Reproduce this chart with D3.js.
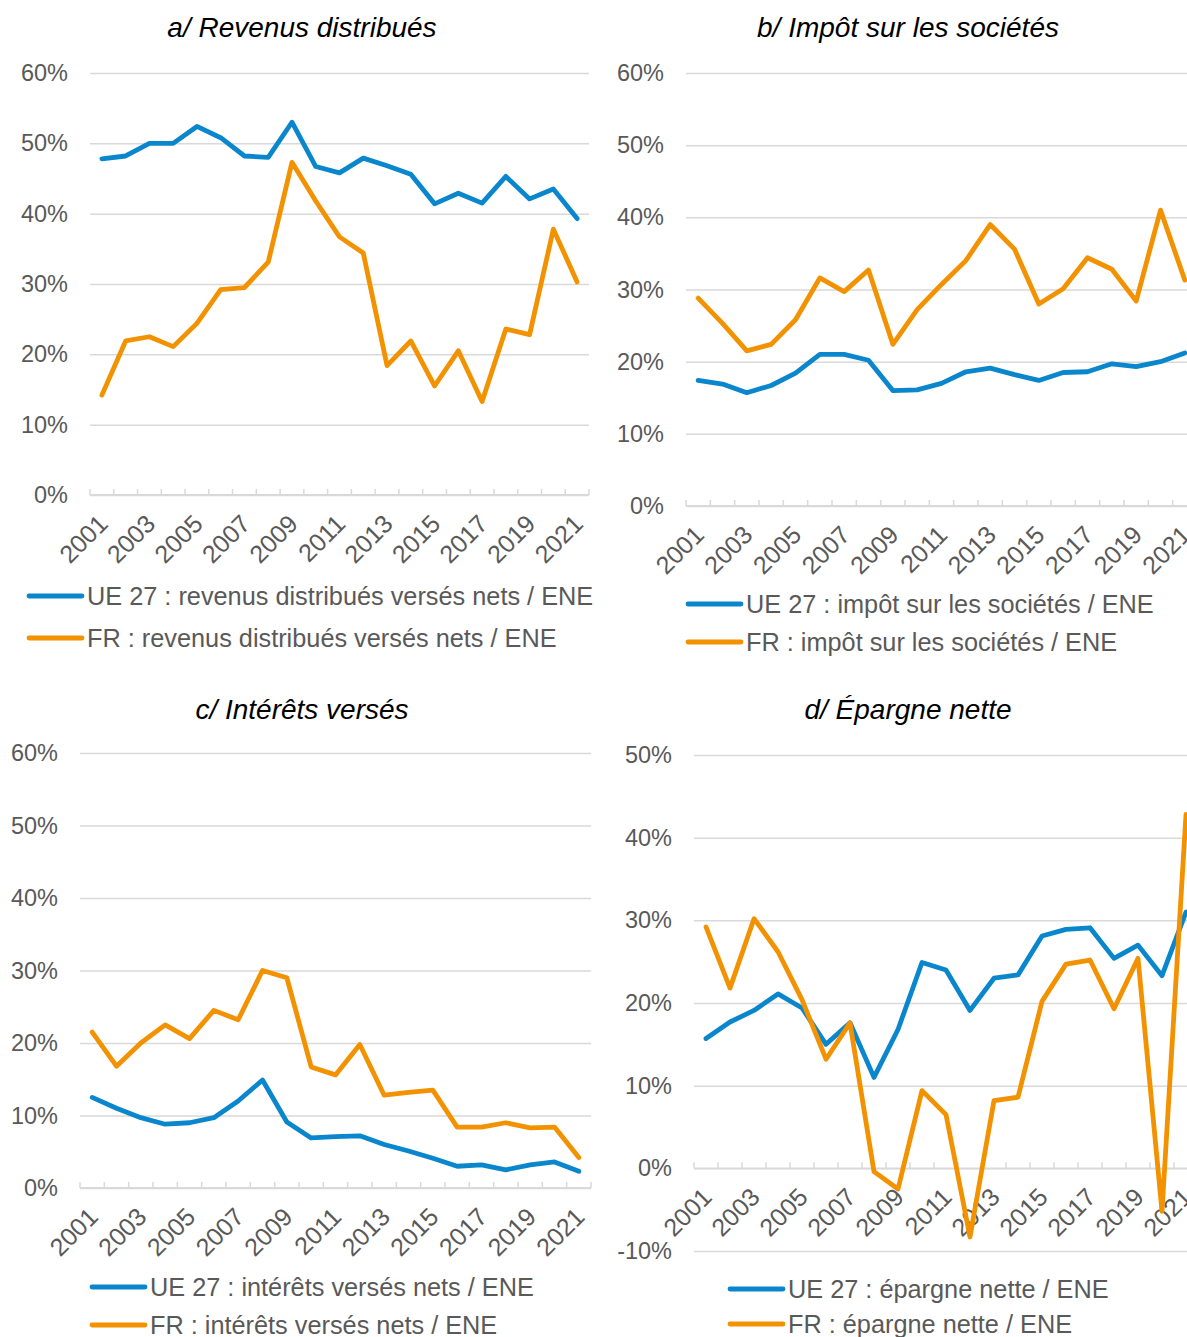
<!DOCTYPE html>
<html>
<head>
<meta charset="utf-8">
<script src="https://cdn.jsdelivr.net/npm/d3@7"></script>
<style>
html,body{margin:0;padding:0;background:#fff;}
svg{display:block;font-family:"Liberation Sans",Arial,sans-serif;}
</style>
</head>
<body>
<svg id="chart" width="1187" height="1337"></svg>
<script>
const years = [2001,2002,2003,2004,2005,2006,2007,2008,2009,2010,2011,2012,2013,2014,2015,2016,2017,2018,2019,2020,2021];
const yearLabels = [2001,2003,2005,2007,2009,2011,2013,2015,2017,2019,2021];

const titles = ["a/ Revenus distribués","b/ Impôt sur les sociétés","c/ Intérêts versés","d/ Épargne nette"];

const legendEU = ["UE 27 : revenus distribués versés nets / ENE","UE 27 : impôt sur les sociétés / ENE","UE 27 : intérêts versés nets / ENE","UE 27 : épargne nette / ENE"];
const legendFR = ["FR : revenus distribués versés nets / ENE","FR : impôt sur les sociétés / ENE","FR : intérêts versés nets / ENE","FR : épargne nette / ENE"];

const ticksABC = [0,10,20,30,40,50,60];
const ticksD = [-10,0,10,20,30,40,50];

// a/ Revenus distribués
const euA = [47.8,48.2,50.0,50.0,52.4,50.8,48.2,48.0,53.0,46.7,45.8,47.9,46.8,45.6,41.4,42.9,41.5,45.3,42.1,43.5,39.3];
const frA = [14.2,21.9,22.5,21.1,24.4,29.2,29.5,33.1,47.3,41.8,36.7,34.4,18.4,21.9,15.5,20.5,13.3,23.6,22.8,37.8,30.3];
// b/ Impôt sur les sociétés
const euB = [17.4,16.9,15.7,16.7,18.4,21.0,21.0,20.2,16.0,16.1,17.0,18.6,19.1,18.2,17.4,18.5,18.6,19.7,19.3,20.0,21.2];
const frB = [28.8,25.3,21.5,22.4,25.8,31.6,29.7,32.7,22.4,27.2,30.7,34.0,39.0,35.6,28.0,30.1,34.4,32.8,28.4,41.0,31.3];
// c/ Intérêts versés
const euC = [12.5,11.0,9.7,8.8,9.0,9.7,12.0,14.9,9.1,6.9,7.1,7.2,6.0,5.1,4.1,3.0,3.2,2.5,3.2,3.6,2.3];
const frC = [21.5,16.8,20.0,22.5,20.6,24.5,23.2,30.0,29.0,16.7,15.6,19.8,12.8,13.2,13.5,8.4,8.4,9.0,8.3,8.4,4.2];
// d/ Épargne nette
const euD = [15.7,17.7,19.1,21.1,19.4,15.0,17.6,11.0,16.8,24.9,24.0,19.1,23.0,23.4,28.1,28.9,29.1,25.4,27.0,23.3,31.0];
const frD = [29.2,21.8,30.2,26.2,20.4,13.2,17.6,-0.4,-2.5,9.4,6.5,-8.3,8.2,8.6,20.2,24.7,25.2,19.3,25.4,-5.2,42.8];

const BLUE = "#0A86CD";
const ORANGE = "#F39200";
const TEXT = "#595959";
const GRID = "#d9d9d9";

const svg = d3.select("#chart");

const panels = [
  {title:titles[0], eu:euA, fr:frA, ticks:ticksABC, dom:[0,60], x0:90, x1:589, yTop:73, yBot:495, titleX:302, titleY:37,
   legX:27, legY1:596, legY2:638},
  {title:titles[1], eu:euB, fr:frB, ticks:ticksABC, dom:[0,60], x0:686, x1:1197, yTop:73, yBot:506, titleX:908, titleY:37,
   legX:686, legY1:604, legY2:642},
  {title:titles[2], eu:euC, fr:frC, ticks:ticksABC, dom:[0,60], x0:80, x1:591, yTop:753, yBot:1188, titleX:302, titleY:719,
   legX:90, legY1:1287, legY2:1325},
  {title:titles[3], eu:euD, fr:frD, ticks:ticksD, dom:[-10,50], x0:694, x1:1198, yTop:755, yBot:1251, titleX:908, titleY:719,
   legX:728, legY1:1289, legY2:1324}
];

panels.forEach((p, i) => {
  const g = svg.append("g");
  const x = d3.scaleBand().domain(years).range([p.x0, p.x1]);
  const y = d3.scaleLinear().domain(p.dom).range([p.yBot, p.yTop]);
  const cx = d => x(d) + x.bandwidth() / 2;

  // title
  g.append("text").attr("x", p.titleX).attr("y", p.titleY)
    .attr("text-anchor", "middle").attr("font-size", 28).attr("font-style", "italic")
    .attr("fill", "#000").text(p.title);

  // gridlines + y labels via axis
  const yAxis = d3.axisLeft(y).tickValues(p.ticks).tickSize(-(p.x1 - p.x0)).tickPadding(22)
    .tickFormat(d => d + "%");
  const ya = g.append("g").attr("transform", `translate(${p.x0},0)`).call(yAxis);
  ya.select(".domain").remove();
  ya.selectAll(".tick line").attr("stroke", GRID).attr("stroke-width", 1.5);
  ya.selectAll(".tick text").attr("fill", TEXT).attr("font-size", 23.5)
    .attr("font-family", '"Liberation Sans",Arial,sans-serif');

  // category axis at zero
  const y0 = y(0);
  g.append("line").attr("x1", p.x0).attr("x2", p.x1).attr("y1", y0).attr("y2", y0)
    .attr("stroke", GRID).attr("stroke-width", 1.8);
  const bounds = years.map(d => x(d)).concat([p.x1]);
  g.selectAll(".cattick").data(bounds).enter().append("line")
    .attr("x1", d => d).attr("x2", d => d).attr("y1", y0).attr("y2", y0 - 6)
    .attr("stroke", GRID).attr("stroke-width", 1.5);

  const xAxis = d3.axisBottom(x).tickValues(yearLabels).tickSize(0).tickPadding(0);
  const xa = g.append("g").attr("transform", `translate(0,${y0})`).call(xAxis);
  xa.select(".domain").remove();
  xa.selectAll(".tick text")
    .attr("fill", TEXT).attr("font-size", 25)
    .attr("font-family", '"Liberation Sans",Arial,sans-serif')
    .attr("text-anchor", "end")
    .attr("dy", null).attr("y", 0)
    .attr("transform", "translate(1,24) rotate(-45)")
    .attr("dominant-baseline", "central");

  // lines
  const line = d3.line().x((d, k) => cx(years[k])).y(d => y(d));
  g.append("path").datum(p.eu).attr("d", line).attr("fill", "none")
    .attr("stroke", BLUE).attr("stroke-width", 4.8).attr("stroke-linejoin", "round").attr("stroke-linecap", "round");
  g.append("path").datum(p.fr).attr("d", line).attr("fill", "none")
    .attr("stroke", ORANGE).attr("stroke-width", 4.8).attr("stroke-linejoin", "round").attr("stroke-linecap", "round");

  // legend
  [[p.legY1, BLUE, legendEU[i]], [p.legY2, ORANGE, legendFR[i]]].forEach(([ly, col, txt]) => {
    g.append("line").attr("x1", p.legX + 2).attr("x2", p.legX + 55).attr("y1", ly).attr("y2", ly)
      .attr("stroke", col).attr("stroke-width", 4.8).attr("stroke-linecap", "round");
    g.append("text").attr("x", p.legX + 60).attr("y", ly).attr("dy", "0.35em")
      .attr("font-size", 25.3).attr("fill", TEXT).text(txt);
  });
});
</script>
</body>
</html>
